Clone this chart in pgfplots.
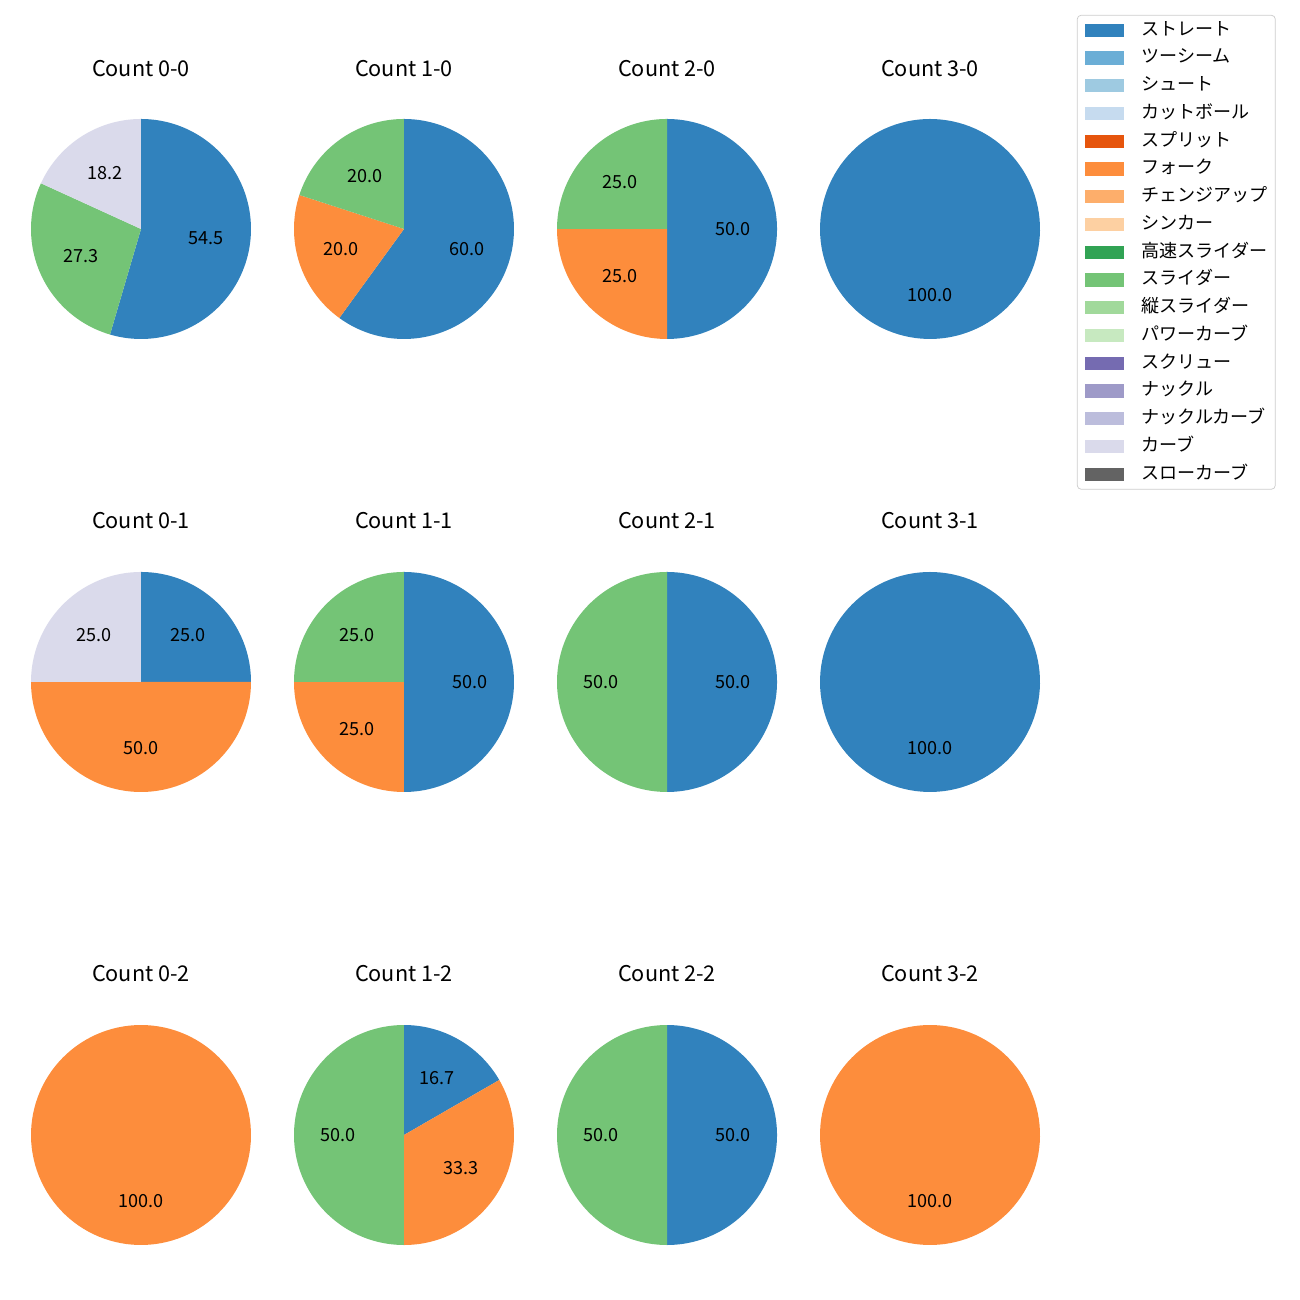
\documentclass[border=0pt]{standalone}
\usepackage{pgfplots}
\pgfplotsset{compat=1.18}
\usepackage{fontspec}
\setmainfont{Noto Sans CJK JP}
\definecolor{cST}{HTML}{3182BD}
\definecolor{cTS}{HTML}{6BAED6}
\definecolor{cSH}{HTML}{9ECAE1}
\definecolor{cCT}{HTML}{C6DBEF}
\definecolor{cSP}{HTML}{E6550D}
\definecolor{cFO}{HTML}{FD8D3C}
\definecolor{cCH}{HTML}{FDAE6B}
\definecolor{cSI}{HTML}{FDD0A2}
\definecolor{cHS}{HTML}{31A354}
\definecolor{cSL}{HTML}{74C476}
\definecolor{cVS}{HTML}{A1D99B}
\definecolor{cPC}{HTML}{C7E9C0}
\definecolor{cSC}{HTML}{756BB1}
\definecolor{cKN}{HTML}{9E9AC8}
\definecolor{cKC}{HTML}{BCBDDC}
\definecolor{cCU}{HTML}{DADAEB}
\definecolor{cSW}{HTML}{636363}
\newcommand{\labfont}{\fontsize{10}{12}\selectfont}
\newcommand{\titfont}{\fontsize{12}{14}\selectfont}
\pgfplotsset{pie/.style={scale only axis, width=121.846pt, height=121.846pt,
  xmin=-1, xmax=1, ymin=-1, ymax=1, hide axis, clip=false, anchor=center}}
% slice: colour, start %, end %, label
\newcommand{\slice}[4]{%
  \addplot[fill=#1, draw=none, domain={90-3.6*(#3)}:{90-3.6*(#2)}, samples=120]
    ({cos(x)},{sin(x)}) -- (axis cs:0,0) -- cycle;
  \node[font=\labfont, inner sep=0pt] at (axis cs:{0.6*cos(90-1.8*(#2+#3))},{0.6*sin(90-1.8*(#2+#3))}) {#4};%
}
\begin{document}
\begin{tikzpicture}
\path (0pt,0pt) rectangle (720pt,720pt);
% titles
\foreach \c/\xx in {0/78.09,1/223.75,2/369.42,3/515.08}{
  \node[font=\titfont] at (\xx pt,681.78pt) {Count \c-0};
  \node[font=\titfont] at (\xx pt,431.45pt) {Count \c-1};
  \node[font=\titfont] at (\xx pt,180.55pt) {Count \c-2};
}
% Row 0
\begin{axis}[pie, at={(78.09pt,593.17pt)}]
\slice{cST}{0}{54.545}{54.5}
\slice{cSL}{54.545}{81.818}{27.3}
\slice{cCU}{81.818}{100}{18.2}
\end{axis}
\begin{axis}[pie, at={(223.75pt,593.17pt)}]
\slice{cST}{0}{60}{60.0}
\slice{cFO}{60}{80}{20.0}
\slice{cSL}{80}{100}{20.0}
\end{axis}
\begin{axis}[pie, at={(369.42pt,593.17pt)}]
\slice{cST}{0}{50}{50.0}
\slice{cFO}{50}{75}{25.0}
\slice{cSL}{75}{100}{25.0}
\end{axis}
\begin{axis}[pie, at={(515.08pt,593.17pt)}]
\slice{cST}{0}{100}{100.0}
\end{axis}
% Row 1
\begin{axis}[pie, at={(78.09pt,342.28pt)}]
\slice{cST}{0}{25}{25.0}
\slice{cFO}{25}{75}{50.0}
\slice{cCU}{75}{100}{25.0}
\end{axis}
\begin{axis}[pie, at={(223.75pt,342.28pt)}]
\slice{cST}{0}{50}{50.0}
\slice{cFO}{50}{75}{25.0}
\slice{cSL}{75}{100}{25.0}
\end{axis}
\begin{axis}[pie, at={(369.42pt,342.28pt)}]
\slice{cST}{0}{50}{50.0}
\slice{cSL}{50}{100}{50.0}
\end{axis}
\begin{axis}[pie, at={(515.08pt,342.28pt)}]
\slice{cST}{0}{100}{100.0}
\end{axis}
% Row 2
\begin{axis}[pie, at={(78.09pt,91.38pt)}]
\slice{cFO}{0}{100}{100.0}
\end{axis}
\begin{axis}[pie, at={(223.75pt,91.38pt)}]
\slice{cST}{0}{16.667}{16.7}
\slice{cFO}{16.667}{50}{33.3}
\slice{cSL}{50}{100}{50.0}
\end{axis}
\begin{axis}[pie, at={(369.42pt,91.38pt)}]
\slice{cST}{0}{50}{50.0}
\slice{cSL}{50}{100}{50.0}
\end{axis}
\begin{axis}[pie, at={(515.08pt,91.38pt)}]
\slice{cFO}{0}{100}{100.0}
\end{axis}
% Legend
\begin{axis}[pie, at={(515.08pt,593.17pt)},
  legend image code/.code={\fill[#1, draw=none, sharp corners] (0pt,-3.7pt) rectangle (21.6pt,3.7pt);},
  legend cell align=left,
  legend style={at={(1.168,1.4727)}, anchor=north west, draw=black!20, rounded corners=2pt,
    fill=white, font=\labfont, inner xsep=4pt, inner ysep=4pt, row sep=6.87pt, column sep=10pt,
    nodes={inner sep=0pt, text height=7pt, text depth=1.5pt, anchor=west}}]
\addlegendimage{fill=cST}\addlegendentry{ストレート}
\addlegendimage{fill=cTS}\addlegendentry{ツーシーム}
\addlegendimage{fill=cSH}\addlegendentry{シュート}
\addlegendimage{fill=cCT}\addlegendentry{カットボール}
\addlegendimage{fill=cSP}\addlegendentry{スプリット}
\addlegendimage{fill=cFO}\addlegendentry{フォーク}
\addlegendimage{fill=cCH}\addlegendentry{チェンジアップ}
\addlegendimage{fill=cSI}\addlegendentry{シンカー}
\addlegendimage{fill=cHS}\addlegendentry{高速スライダー}
\addlegendimage{fill=cSL}\addlegendentry{スライダー}
\addlegendimage{fill=cVS}\addlegendentry{縦スライダー}
\addlegendimage{fill=cPC}\addlegendentry{パワーカーブ}
\addlegendimage{fill=cSC}\addlegendentry{スクリュー}
\addlegendimage{fill=cKN}\addlegendentry{ナックル}
\addlegendimage{fill=cKC}\addlegendentry{ナックルカーブ}
\addlegendimage{fill=cCU}\addlegendentry{カーブ}
\addlegendimage{fill=cSW}\addlegendentry{スローカーブ}
\end{axis}
\end{tikzpicture}
\end{document}
